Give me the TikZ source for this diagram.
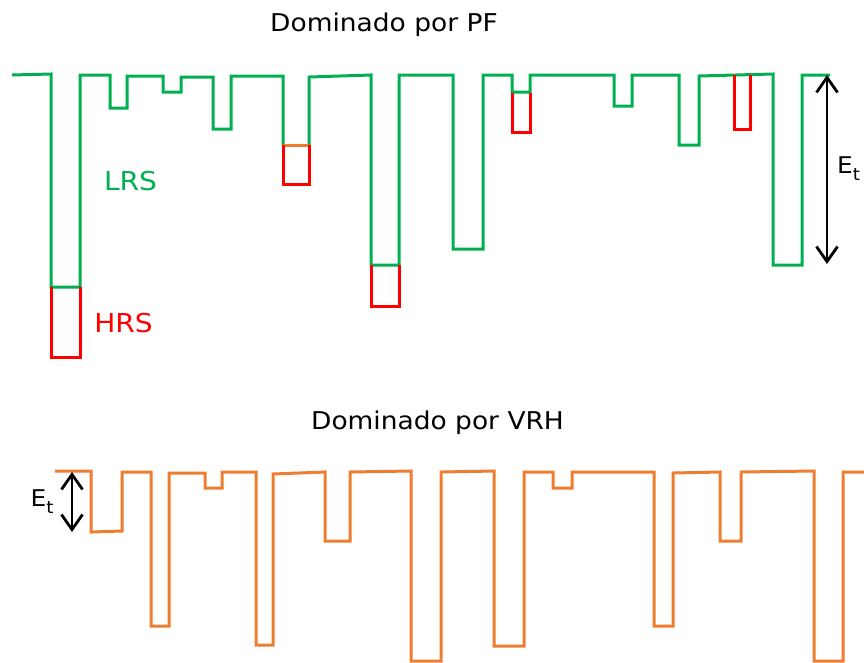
\documentclass[tikz,border=0pt]{standalone}
\usepackage{fontspec}
\setmainfont{DejaVu Sans}[FakeStretch=1.08]
\usetikzlibrary{arrows.meta}
\definecolor{lrsgreen}{RGB}{0,176,80}
\definecolor{hrsred}{RGB}{255,0,0}
\definecolor{vrhorange}{RGB}{237,125,49}
\tikzset{
  greenline/.style={draw=lrsgreen, line width=3pt},
  redline/.style={draw=hrsred, line width=3pt},
  orangeline/.style={draw=vrhorange, line width=3pt},
  dimarrow/.style={draw=black, line width=2.8pt,
    {Straight Barb[length=15pt,width=21pt]}-{Straight Barb[length=15pt,width=21pt]}},
  titletext/.style={anchor=base, inner sep=0pt, font=\fontsize{24.5}{28}\selectfont},
  labeltext/.style={anchor=base, inner sep=0pt, font=\fontsize{26}{30}\selectfont},
  etext/.style={anchor=base west, inner sep=0pt, font=\fontsize{23}{26}\selectfont}
}
\newcommand{\Et}{E{\raisebox{-7pt}{\fontsize{17}{18}\selectfont t}}}
\begin{document}
\begin{tikzpicture}[x=1pt,y=-1pt]
\useasboundingbox (0,0) rectangle (864,662);

% ---------- Top: Dominado por PF ----------
\node[titletext] (title1) at (384,31.7) {Dominado por PF};

\draw[greenline] (12,75) -- (51,74) -- (51,287) -- (80,287) -- (80,75) -- (110,75)
  -- (110,108) -- (127,108) -- (127,76) -- (163,76) -- (163,92) -- (181,92) -- (181,77)
  -- (213,77) -- (213,129) -- (231,129) -- (231,76) -- (283,76) -- (283,145);
\draw[greenline] (309,145) -- (309,77) -- (371,75) -- (371,265) -- (399,265) -- (399,75)
  -- (453,75) -- (453,249) -- (483,249) -- (483,75) -- (512,75) -- (512,92) -- (530,92)
  -- (530,75) -- (614,75) -- (614,106) -- (632,106) -- (632,75) -- (679,75) -- (679,145)
  -- (699,145) -- (699,76) -- (773,74) -- (773,265) -- (802,265) -- (802,75) -- (830,75);
\draw[orangeline] (283,145) -- (309,145);

% HRS boxes
\draw[redline] (51,287) -- (51,357) -- (80,357) -- (80,287);
\draw[redline] (283,145) -- (283,184) -- (309,184) -- (309,145);
\draw[redline] (371,265) -- (371,306) -- (399,306) -- (399,265);
\draw[redline] (512,93) -- (512,132) -- (530,132) -- (530,93);
\draw[redline] (734,75) -- (734,129) -- (750,129) -- (750,75);

\node[labeltext, text=lrsgreen] (lrs) at (130.5,190.7) {LRS};
\node[labeltext, text=hrsred] (hrs) at (123.5,332.7) {HRS};

\coordinate (et1top) at (827,75);
\coordinate (et1bot) at (827,264);
\draw[dimarrow] (et1top) -- (et1bot);
\node[etext] (et1) at (837,173) {\Et};

% ---------- Bottom: Dominado por VRH ----------
\node[titletext] (title2) at (437.5,429.3) {Dominado por VRH};

\draw[orangeline] (55,471) -- (91,471) -- (91,532) -- (122,531) -- (122,472) -- (151,472)
  -- (151,626) -- (169,626) -- (169,473) -- (205,473) -- (205,488) -- (222,488) -- (222,472)
  -- (256,472) -- (256,645) -- (273,645) -- (273,474) -- (325,472) -- (325,541) -- (350,541)
  -- (350,472) -- (411,471) -- (411,661) -- (441,661) -- (441,472) -- (494,471) -- (494,646)
  -- (524,646) -- (524,472) -- (553,472) -- (553,488) -- (572,488) -- (572,472) -- (654,472)
  -- (654,626) -- (673,626) -- (673,473) -- (720,472) -- (720,541) -- (741,541) -- (741,472)
  -- (814,471) -- (814,661) -- (843,661) -- (843,472) -- (864,472);

\coordinate (et2top) at (72,472);
\coordinate (et2bot) at (72,532);
\draw[dimarrow] (et2top) -- (et2bot);
\node[etext] (et2) at (30.5,506) {\Et};
\end{tikzpicture}
\end{document}
